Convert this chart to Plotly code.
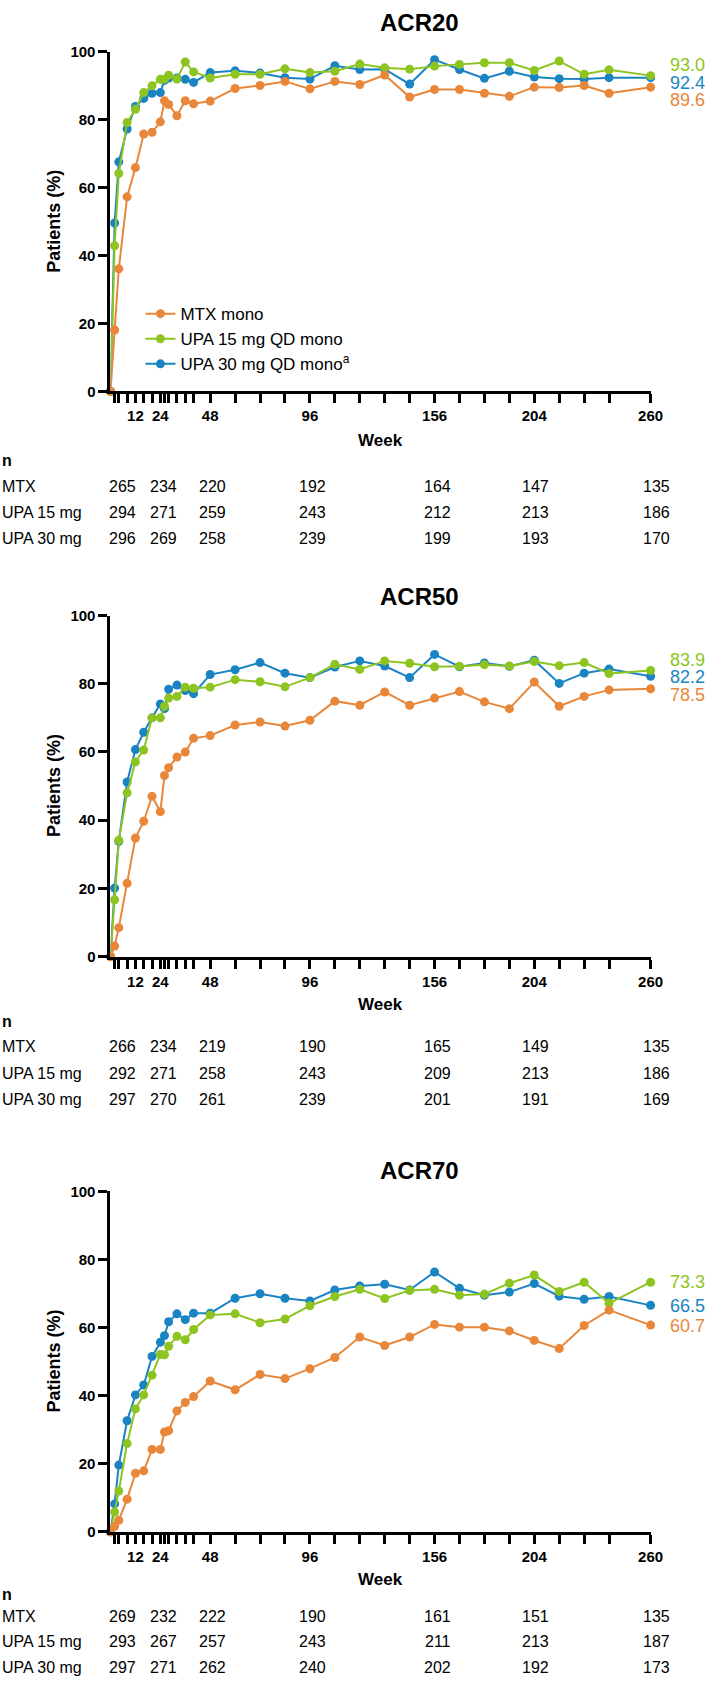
import plotly.graph_objects as go

# ---------------- data ----------------
weeks = [0, 2, 4, 8, 12, 16, 20, 24, 26, 28, 32, 36, 40, 48, 60, 72, 84, 96,
         108, 120, 132, 144, 156, 168, 180, 192, 204, 216, 228, 240, 260]

acr20_mtx = [0, 18.1, 36.1, 57.3, 65.9, 75.8, 76.3, 79.4, 85.6, 84.5, 81.2, 85.6, 84.7, 85.5, 89.2, 90.1,
             91.3, 89.1, 91.3, 90.4, 93.2, 86.7, 88.9, 88.9, 87.8, 86.9, 89.6, 89.5, 90.1, 87.8, 89.6]
acr20_upa15 = [0, 42.9, 64.2, 79.2, 83.1, 88.0, 90.0, 91.9, 91.9, 93.1, 92.0, 97.0, 94.1, 92.3, 93.4, 93.4,
               95.0, 93.9, 94.3, 96.4, 95.3, 94.9, 95.8, 96.3, 96.8, 96.8, 94.5, 97.3, 93.4, 94.7, 93.0]
acr20_upa30 = [0, 49.6, 67.6, 77.3, 83.9, 86.3, 87.8, 88.0, 91.6, 92.3, 92.3, 91.9, 91.0, 93.9, 94.4, 93.8,
               92.4, 92.0, 95.9, 94.8, 94.9, 90.5, 97.7, 94.8, 92.2, 94.3, 92.6, 92.1, 92.0, 92.4, 92.4]

acr50_mtx = [0, 3.1, 8.5, 21.5, 34.8, 39.7, 47.0, 42.5, 53.1, 55.4, 58.5, 60.0, 64.0, 64.8, 67.9, 68.8,
             67.6, 69.3, 74.9, 73.7, 77.6, 73.7, 75.8, 77.7, 74.7, 72.7, 80.5, 73.4, 76.3, 78.2, 78.5]
acr50_upa15 = [0, 16.7, 34.1, 48.0, 57.1, 60.6, 70.0, 70.0, 73.4, 75.8, 76.3, 79.0, 78.7, 79.0, 81.2, 80.6,
               79.1, 81.8, 85.7, 84.2, 86.7, 86.0, 85.0, 85.1, 85.6, 85.2, 86.5, 85.3, 86.2, 83.0, 83.9]
acr50_upa30 = [0, 20.1, 33.8, 51.2, 60.7, 65.8, 70.0, 74.1, 72.7, 78.4, 79.6, 78.0, 77.1, 82.7, 84.1, 86.2,
               83.1, 81.8, 84.9, 86.7, 85.2, 81.8, 88.6, 85.0, 86.1, 85.1, 86.9, 80.1, 83.1, 84.3, 82.2]

acr70_mtx = [0, 1.6, 3.4, 9.6, 17.2, 17.9, 24.2, 24.2, 29.3, 29.7, 35.5, 38.0, 39.7, 44.3, 41.7, 46.2,
             45.0, 47.9, 51.2, 57.2, 54.7, 57.2, 60.9, 60.1, 60.1, 59.0, 56.2, 53.8, 60.6, 65.1, 60.7]
acr70_upa15 = [0, 5.8, 12.0, 25.9, 36.1, 40.2, 46.0, 52.1, 52.0, 54.5, 57.4, 56.4, 59.4, 63.7, 64.0, 61.4,
               62.5, 66.4, 69.1, 71.2, 68.5, 70.9, 71.2, 69.5, 69.8, 73.0, 75.4, 70.6, 73.3, 67.1, 73.3]
acr70_upa30 = [0, 8.2, 19.6, 32.6, 40.2, 43.1, 51.5, 55.7, 57.6, 61.7, 64.0, 62.3, 64.2, 64.2, 68.6, 69.9,
               68.6, 67.8, 71.0, 72.2, 72.7, 71.0, 76.3, 71.5, 69.5, 70.4, 72.9, 69.2, 68.3, 69.1, 66.5]

panel_titles = ["ACR20", "ACR50", "ACR70"]
series_names = ["MTX mono", "UPA 15 mg QD mono", "UPA 30 mg QD mono<sup>a</sup>"]
row_labels = ["MTX", "UPA 15 mg", "UPA 30 mg"]

minor_weeks = [2, 4, 8, 16, 20, 26, 28, 32, 36, 40, 60, 72, 84, 108, 120,
               132, 144, 168, 180, 192, 216, 228, 240]
labeled_weeks = [12, 24, 48, 96, 156, 204, 260]
y_ticks = [0, 20, 40, 60, 80, 100]

n_weeks = [0, 24, 48, 96, 156, 204, 260]
n_acr20_mtx = [265, 234, 220, 192, 164, 147, 135]
n_acr20_upa15 = [294, 271, 259, 243, 212, 213, 186]
n_acr20_upa30 = [296, 269, 258, 239, 199, 193, 170]
n_acr50_mtx = [266, 234, 219, 190, 165, 149, 135]
n_acr50_upa15 = [292, 271, 258, 243, 209, 213, 186]
n_acr50_upa30 = [297, 270, 261, 239, 201, 191, 169]
n_acr70_mtx = [269, 232, 222, 190, 161, 151, 135]
n_acr70_upa15 = [293, 267, 257, 243, 211, 213, 187]
n_acr70_upa30 = [297, 271, 262, 240, 202, 192, 173]

panels = [
    (acr20_mtx, acr20_upa15, acr20_upa30, n_acr20_mtx, n_acr20_upa15, n_acr20_upa30),
    (acr50_mtx, acr50_upa15, acr50_upa30, n_acr50_mtx, n_acr50_upa15, n_acr50_upa30),
    (acr70_mtx, acr70_upa15, acr70_upa30, n_acr70_mtx, n_acr70_upa15, n_acr70_upa30),
]

# ---------------- styling / layout ----------------
W, H = 724, 1689
FONT = "Liberation Sans, Arial, sans-serif"
colors = ["#E8873A", "#8DC420", "#1A84C3"]
X_LEFT, X_RIGHT = 112.5, 662.5
panel_px = [  # pixel geometry of each panel
    dict(top=43.3, bot=386.3, title=13.5, week=436, rows=[456, 482, 508.5, 535],
         end_shift=[-13, 10.3, -4.9]),
    dict(top=612.7, bot=957.3, title=593.5, week=1006, rows=[1022.5, 1048.5, 1075, 1101.5],
         end_shift=[-6.5, 10.5, -0.9]),
    dict(top=1194.3, bot=1538.3, title=1173.3, week=1586.7, rows=[1601.5, 1624, 1649.5, 1675.5],
         end_shift=[-0.5, 0.5, -0.5]),
]
n_xshift = [12.5, 2.7, 2, 3, 3.3, 1.6, 5.5]


def py(px):
    return 1 - px / H


fig = go.Figure()
annotations = []
draw_order = [2, 1, 0]

for i, (pdata, geo) in enumerate(zip(panels, panel_px)):
    sfx = "" if i == 0 else str(i + 1)
    series = pdata[:3]
    ns = pdata[3:]
    for k in draw_order:
        fig.add_trace(go.Scatter(
            x=weeks, y=series[k], mode="lines+markers", name=series_names[k],
            line=dict(color=colors[k], width=2),
            marker=dict(color=colors[k], size=9),
            cliponaxis=False, showlegend=(i == 0), legendrank=k + 1,
            xaxis="x" + sfx, yaxis="y" + sfx, hoverinfo="skip"))

    axis_common = dict(showline=True, linecolor="black", linewidth=3, ticks="outside",
                       ticklen=9, tickwidth=2.5, tickcolor="black", showgrid=False,
                       zeroline=False, tickfont=dict(family=FONT, size=15, color="black", weight="bold"))
    fig.update_layout(**{
        "xaxis" + sfx: dict(domain=[X_LEFT / W, X_RIGHT / W], range=[0, 260], anchor="y" + sfx,
                            tickmode="array", tickvals=labeled_weeks,
                            ticktext=[str(w) for w in labeled_weeks],
                            minor=dict(tickmode="array", tickvals=minor_weeks, ticks="outside",
                                       ticklen=9, tickwidth=2.5, tickcolor="black", showgrid=False),
                            **axis_common),
        "yaxis" + sfx: dict(domain=[py(geo["bot"]), py(geo["top"])], range=[0, 100], anchor="x" + sfx,
                            tickmode="array", tickvals=y_ticks, **axis_common),
    })

    xref = "x" + sfx
    # title
    annotations.append(dict(text="<b>%s</b>" % panel_titles[i], x=427 / W, y=py(geo["title"]),
                            xref="paper", yref="paper", showarrow=False, xanchor="center",
                            yanchor="middle", font=dict(family=FONT, size=24, color="black")))
    # y-axis title
    annotations.append(dict(text="<b>Patients (%)</b>", x=55 / W, y=py((geo["top"] + geo["bot"]) / 2),
                            xref="paper", yref="paper", showarrow=False, textangle=-90,
                            xanchor="center", yanchor="middle",
                            font=dict(family=FONT, size=18, color="black")))
    # x-axis title
    annotations.append(dict(text="<b>Week</b>", x=(X_LEFT + X_RIGHT) / 2 / W, y=py(geo["week"]),
                            xref="paper", yref="paper", showarrow=False, xanchor="center",
                            yanchor="middle", font=dict(family=FONT, size=17, color="black")))
    # end labels
    for k in range(3):
        annotations.append(dict(text="%.1f" % series[k][-1], x=weeks[-1], y=series[k][-1],
                                xref=xref, yref="y" + sfx, showarrow=False, xanchor="left",
                                yanchor="middle", xshift=17, yshift=geo["end_shift"][k],
                                font=dict(family=FONT, size=18, color=colors[k])))
    # n table
    annotations.append(dict(text="<b>n</b>", x=0, y=py(geo["rows"][0]), xref="paper", yref="paper",
                            showarrow=False, xanchor="left", yanchor="middle",
                            font=dict(family=FONT, size=16, color="black")))
    for r in range(3):
        yy = py(geo["rows"][r + 1])
        annotations.append(dict(text=row_labels[r], x=0, y=yy, xref="paper", yref="paper",
                                showarrow=False, xanchor="left", yanchor="middle",
                                font=dict(family=FONT, size=16, color="black")))
        for c, wk in enumerate(n_weeks):
            annotations.append(dict(text=str(ns[r][c]), x=wk, y=yy, xref=xref, yref="paper",
                                    showarrow=False, xanchor="center", yanchor="middle",
                                    xshift=n_xshift[c],
                                    font=dict(family=FONT, size=16, color="black")))

fig.update_layout(
    width=W, height=H, margin=dict(l=0, r=0, t=0, b=0),
    paper_bgcolor="white", plot_bgcolor="white",
    annotations=annotations,
    legend=dict(x=143 / W, y=py(290), xanchor="left", yanchor="top", bgcolor="rgba(0,0,0,0)",
                font=dict(family=FONT, size=17, color="black"), itemwidth=30,
                tracegroupgap=0, traceorder="normal"),
    showlegend=True,
)

fig.write_html("out.html", config={"displayModeBar": False},
               post_script="document.body.style.margin='0';")
